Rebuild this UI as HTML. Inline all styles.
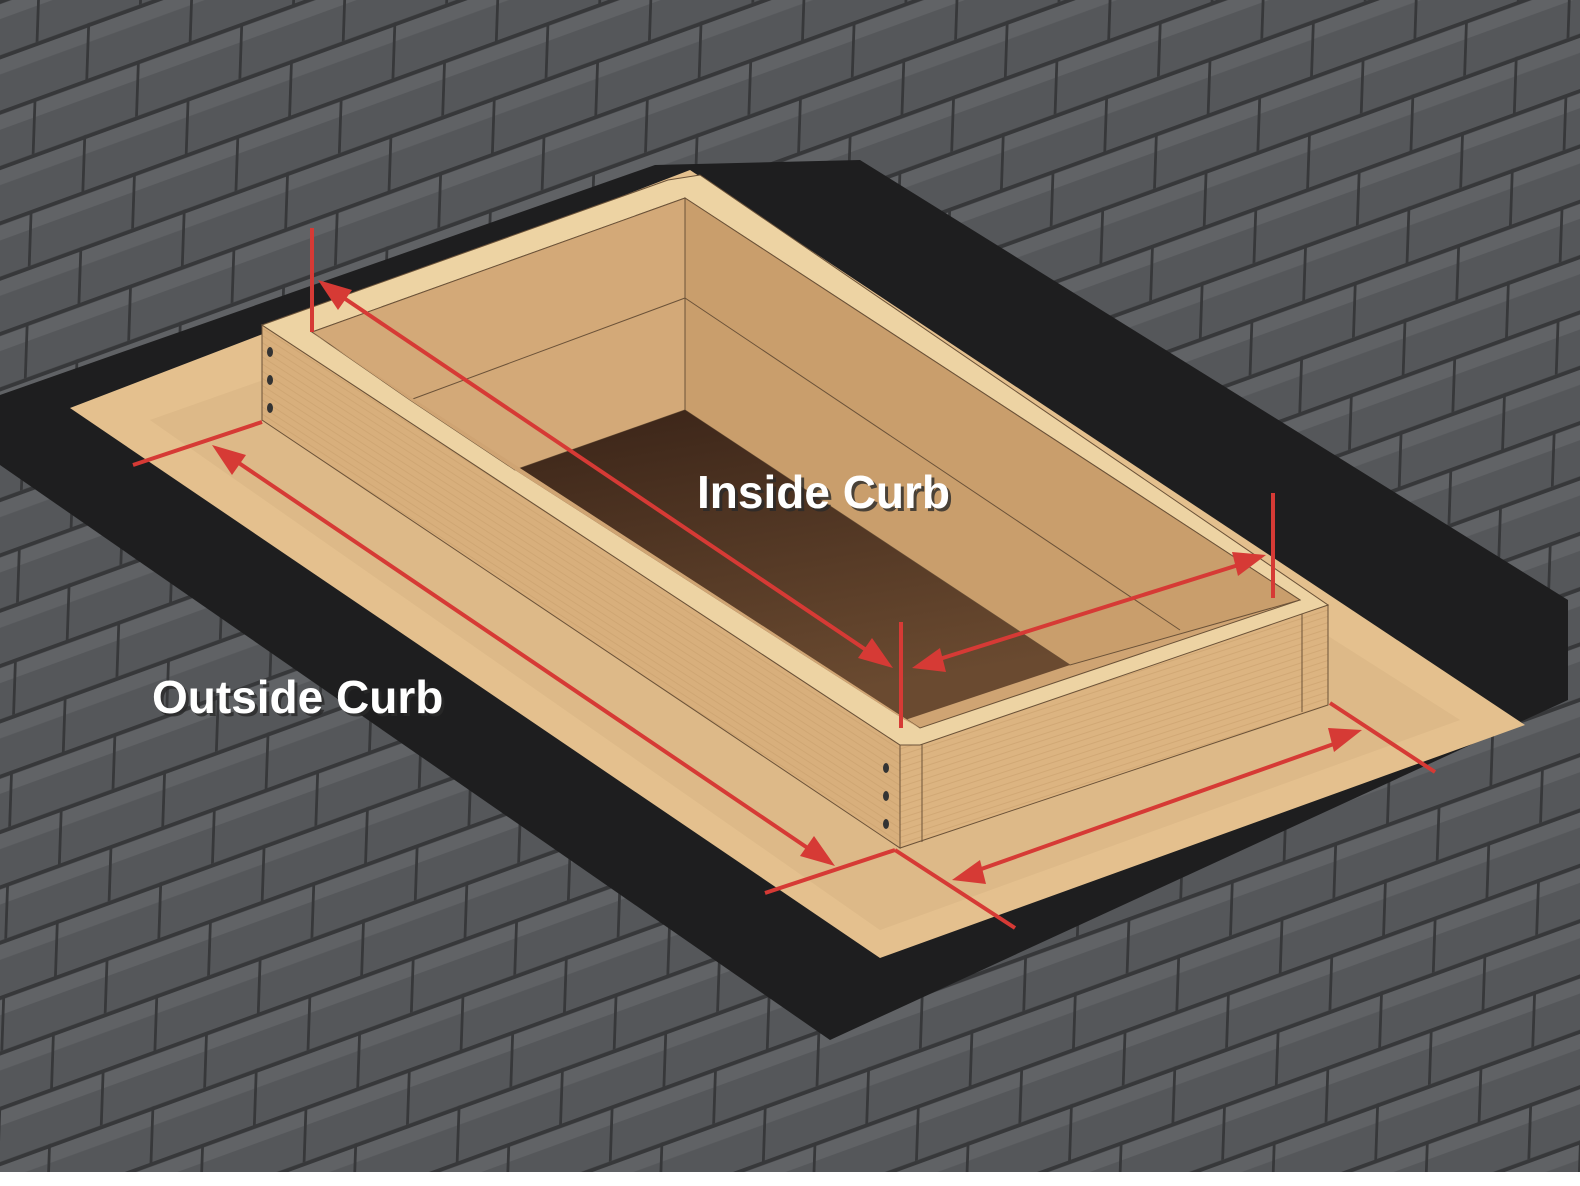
<!DOCTYPE html>
<html><head><meta charset="utf-8"><style>
html,body{margin:0;padding:0;background:#fff;}
svg{display:block;}
text{font-family:"Liberation Sans",sans-serif;font-weight:bold;}
</style></head><body>
<svg width="1580" height="1186" viewBox="0 0 1580 1186" xmlns="http://www.w3.org/2000/svg">
<defs>
<pattern id="sh" width="220" height="104" patternUnits="userSpaceOnUse" patternTransform="rotate(-20) skewX(-22)">
<rect width="220" height="104" fill="#55575a"/>
<rect x="0" y="0" width="220" height="4" fill="#37383a"/>
<rect x="0" y="52" width="220" height="4" fill="#37383a"/>
<rect x="0" y="4" width="220" height="14" fill="#616366"/>
<rect x="0" y="56" width="220" height="14" fill="#606265"/>
<rect x="40" y="0" width="3" height="52" fill="#37383a"/>
<rect x="150" y="0" width="3" height="52" fill="#37383a"/>
<rect x="95" y="52" width="3" height="52" fill="#37383a"/>
<rect x="205" y="52" width="3" height="52" fill="#37383a"/>
</pattern>
<pattern id="grain" width="30" height="6" patternUnits="userSpaceOnUse" patternTransform="rotate(33)">
<rect width="30" height="6" fill="#d8af7c"/>
<rect y="0" width="30" height="1" fill="#c9a06d" opacity="0.6"/>
</pattern>
<pattern id="grain2" width="30" height="6" patternUnits="userSpaceOnUse" patternTransform="rotate(-18)">
<rect width="30" height="6" fill="#dcb481"/>
<rect y="0" width="30" height="1" fill="#c9a06d" opacity="0.6"/>
</pattern>
<linearGradient id="floor" x1="0" y1="0" x2="0.3" y2="1">
<stop offset="0" stop-color="#3a2418"/><stop offset="1" stop-color="#6a4a30"/>
</linearGradient>
</defs>
<rect width="1580" height="1186" fill="url(#sh)"/>
<rect y="1172" width="1580" height="14" fill="#fff"/>
<!-- black underlayment -->
<polygon points="0,395 655,165 860,160 1568,600 1568,700 830,1040 0,465" fill="#1e1e1f"/>
<!-- plywood -->
<polygon points="70,408 690,170 1525,725 880,958" fill="#e4c08e"/>
<polygon points="150,420 690,230 1460,720 880,930" fill="#d6b182" opacity="0.5"/>
<!-- left long outer face -->
<polygon points="262,325 900,745 900,848 262,420" fill="url(#grain)" stroke="#6b5238" stroke-width="1"/>
<!-- front short face -->
<polygon points="900,745 1328,605 1328,705 900,848" fill="url(#grain2)" stroke="#6b5238" stroke-width="1"/>
<line x1="922" y1="740" x2="922" y2="842" stroke="#6b5238"/>
<line x1="1302" y1="614" x2="1302" y2="712" stroke="#6b5238"/>
<!-- top rim -->
<polygon points="262,325 668,180 700,175 1328,605 920,745 900,745" fill="#edd3a3" stroke="#6b5238"/>
<!-- interior -->
<polygon points="312,332 685,198 1300,600 920,728" fill="#cfa473" stroke="#6b5238"/>
<polygon points="312,332 685,198 685,410 515,470 410,400" fill="#d3a978" stroke="#6b5238"/>
<polygon points="685,198 1300,600 1070,665 685,410" fill="#c99e6c" stroke="#6b5238"/>
<line x1="410" y1="400" x2="685" y2="298" stroke="#6b5238"/>
<line x1="685" y1="298" x2="1180" y2="630" stroke="#6b5238"/>
<polygon points="515,470 685,410 1070,665 905,720" fill="url(#floor)"/>
<polygon points="312,332 410,400 515,470 905,720 920,728 320,338" fill="#cfa473"/>
<!-- screws -->
<g fill="#333"><ellipse cx="270" cy="352" rx="3" ry="5"/><ellipse cx="270" cy="380" rx="3" ry="5"/><ellipse cx="270" cy="408" rx="3" ry="5"/>
<ellipse cx="886" cy="768" rx="3" ry="5"/><ellipse cx="886" cy="796" rx="3" ry="5"/><ellipse cx="886" cy="824" rx="3" ry="5"/></g>
<!-- red dimension lines -->
<g stroke="#d63a35" stroke-width="4" fill="#d63a35">
<line x1="312" y1="228" x2="312" y2="332"/>
<line x1="901" y1="622" x2="901" y2="728"/>
<line x1="1273" y1="493" x2="1273" y2="598"/>
<line x1="133" y1="465" x2="262" y2="422"/>
<line x1="765" y1="893" x2="895" y2="850"/>
<line x1="895" y1="850" x2="1015" y2="928"/>
<line x1="1330" y1="703" x2="1435" y2="772"/>
<line x1="335" y1="292" x2="878" y2="658"/>
<line x1="930" y1="662" x2="1248" y2="562"/>
<line x1="230" y1="457" x2="818" y2="855"/>
<line x1="970" y1="873" x2="1345" y2="740"/>
</g>
<g fill="#d63a35">
<polygon points="318,280 352,290 338,310"/>
<polygon points="893,668 858,658 872,638"/>
<polygon points="912,668 940,648 946,672"/>
<polygon points="1266,555 1238,576 1232,552"/>
<polygon points="212,445 246,455 232,475"/>
<polygon points="835,866 800,856 814,836"/>
<polygon points="952,880 980,860 986,884"/>
<polygon points="1362,730 1334,752 1328,728"/>
</g>
<g font-size="46">
<text x="700" y="511" fill="#2a2a2a" opacity="0.8">Inside Curb</text>
<text x="697" y="508" fill="#fff">Inside Curb</text>
<text x="155" y="716" fill="#2a2a2a" opacity="0.8">Outside Curb</text>
<text x="152" y="713" fill="#fff">Outside Curb</text>
</g>
</svg>
</body></html>
